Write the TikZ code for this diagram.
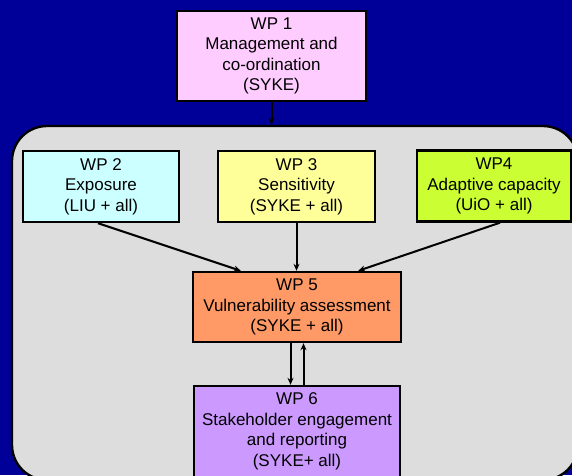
\documentclass[tikz,border=0pt]{standalone}
\usepackage{fontspec}
\setmainfont{Liberation Sans}
\usetikzlibrary{arrows.meta,calc}
\definecolor{bgblue}{HTML}{000099}
\definecolor{panel}{HTML}{DDDDDD}
\definecolor{cwpa}{HTML}{FFCCFF}
\definecolor{cwpb}{HTML}{CCFFFF}
\definecolor{cwpc}{HTML}{FFFF99}
\definecolor{cwpd}{HTML}{CCFF33}
\definecolor{cwpe}{HTML}{FF9966}
\definecolor{cwpf}{HTML}{CC99FF}
\tikzset{
  wpbox/.style={draw=black, line width=2.4pt, inner sep=0pt, align=center,
    font=\fontsize{17}{20.5}\selectfont},
  arr/.style={line width=2pt, -{Stealth[length=7pt,width=6pt]}}
}
\begin{document}
\begin{tikzpicture}[x=1pt,y=-1pt]
\useasboundingbox (0,0) rectangle (572,475);
\clip (0,0) rectangle (572,475);
\fill[bgblue] (0,0) rectangle (572,475);
\node[draw=black, line width=2.4pt, fill=panel, rounded corners=35pt, inner sep=0pt,
  minimum width=566pt, minimum height=354pt] (cont) at (295,303) {};
\node[wpbox, fill=cwpa, minimum width=189pt, minimum height=90pt] (wp1) at (271.5,56) {WP 1\\Management and\\co-ordination\\(SYKE)};
\node[wpbox, fill=cwpb, minimum width=156pt, minimum height=71pt] (wp2) at (101,186.5) {WP 2\\Exposure\\(LIU + all)};
\node[wpbox, fill=cwpc, minimum width=157pt, minimum height=71pt] (wp3) at (296.5,186.5) {WP 3\\Sensitivity\\(SYKE + all)};
\node[wpbox, fill=cwpd, minimum width=154pt, minimum height=71pt] (wp4) at (494,186) {WP4\\Adaptive capacity\\(UiO + all)};
\node[wpbox, fill=cwpe, minimum width=208pt, minimum height=70pt] (wp5) at (297,307) {WP 5\\Vulnerability assessment\\(SYKE + all)};
\node[wpbox, fill=cwpf, minimum width=206pt, minimum height=91pt] (wp6) at (297,431.5) {WP 6\\Stakeholder engagement\\and reporting\\(SYKE+ all)};
\draw[arr] (wp1.south) -- (wp1.south |- cont.north);
\draw[arr] ($(wp2.south)+(-3,0)$) -- ($(wp5.north west)+(49,0)$);
\draw[arr] (wp3.south) -- (wp3.south |- wp5.north);
\draw[arr] ($(wp4.south)+(6,0)$) -- ($(wp5.north east)+(-44,0)$);
\draw[arr] ($(wp5.south)+(-6.5,0)$) -- ($(wp6.north)+(-6.5,0)$);
\draw[arr] ($(wp6.north)+(6.5,0)$) -- ($(wp5.south)+(6.5,0)$);
\end{tikzpicture}
\end{document}
